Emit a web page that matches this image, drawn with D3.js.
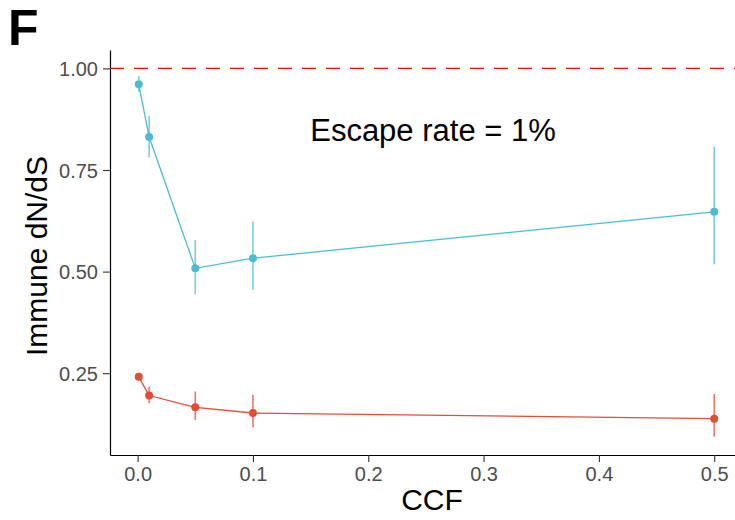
<!DOCTYPE html>
<html>
<head>
<meta charset="utf-8">
<script src="https://cdn.jsdelivr.net/npm/d3@7"></script>
<style>
  body { margin: 0; background: #fff; }
  svg { font-family: "Liberation Sans", Arial, Helvetica, sans-serif; display: block; }
  .tick text { fill: #4d4d4d; font-size: 20px; }
  .tick line { stroke: #333; }
  .domain { stroke: #000; }
</style>
</head>
<body>
<div id="chart"></div>
<script>
// CCF values on the x axis
const ccf = [0.001, 0.01, 0.05, 0.1, 0.5];
// blue series (top)
const blueMean = [0.961, 0.831, 0.508, 0.533, 0.647];
const blueLow  = [0.942, 0.781, 0.444, 0.455, 0.518];
const blueHigh = [0.981, 0.883, 0.578, 0.623, 0.807];
// red series (bottom)
const redMean = [0.241, 0.195, 0.166, 0.152, 0.138];
const redLow  = [0.236, 0.176, 0.135, 0.117, 0.094];
const redHigh = [0.246, 0.217, 0.205, 0.197, 0.199];

const xTicks = [0, 0.1, 0.2, 0.3, 0.4, 0.5];
const yTicks = [0.25, 0.5, 0.75, 1.0];
const refLine = 1.0;

const width = 735, height = 520;
const margin = {left: 110, right: 743, top: 50, bottom: 455};

const svg = d3.select('#chart').append('svg')
    .attr('width', width)
    .attr('height', height);

// ggplot style 5% expansion
let xAll = ccf;
let xPad = (d3.max(xAll) - d3.min(xAll)) * 0.05;
let x = d3.scaleLinear()
    .domain([d3.min(xAll) - xPad, d3.max(xAll) + xPad])
    .range([margin.left, margin.right]);

let yAll = blueHigh.concat(redLow, [refLine]);
let yPad = (d3.max(yAll) - d3.min(yAll)) * 0.05;
let y = d3.scaleLinear()
    .domain([d3.min(yAll) - yPad, d3.max(yAll) + yPad])
    .range([margin.bottom, margin.top]);

// axes
let xAxis = d3.axisBottom(x)
    .tickValues(xTicks)
    .tickFormat(d3.format('.1f'))
    .tickSizeInner(7)
    .tickSizeOuter(0)
    .tickPadding(5);
svg.append('g')
    .attr('transform', 'translate(0,' + margin.bottom + ')')
    .call(xAxis)
    .call(g => g.select('.domain').attr('stroke-width', 1.2))
    .selectAll('.tick line').attr('stroke-width', 1.1);

let yAxis = d3.axisLeft(y)
    .tickValues(yTicks)
    .tickFormat(d3.format('.2f'))
    .tickSizeInner(7)
    .tickSizeOuter(0)
    .tickPadding(5);
svg.append('g')
    .attr('transform', 'translate(' + margin.left + ',0)')
    .call(yAxis)
    .call(g => g.select('.domain').attr('stroke-width', 1.2))
    .call(g => g.selectAll('.tick text').attr('dy', '0.36em'))
    .selectAll('.tick line').attr('stroke-width', 1.1);

// reference line
svg.append('line')
    .attr('x1', margin.left)
    .attr('x2', width)
    .attr('y1', y(refLine))
    .attr('y2', y(refLine))
    .attr('stroke', '#ff0000')
    .attr('stroke-width', 1.2)
    .attr('stroke-dasharray', '14,10');

function drawSeries(mean, low, high, color) {
    let data = ccf.map((c, i) => ({x: c, m: mean[i], lo: low[i], hi: high[i]}));
    let g = svg.append('g');

    g.selectAll('line.err').data(data).enter().append('line')
        .attr('class', 'err')
        .attr('x1', d => x(d.x))
        .attr('x2', d => x(d.x))
        .attr('y1', d => y(d.lo))
        .attr('y2', d => y(d.hi))
        .attr('stroke', color)
        .attr('stroke-opacity', 0.75)
        .attr('stroke-width', 1.6);

    let line = d3.line().x(d => x(d.x)).y(d => y(d.m));
    g.append('path')
        .datum(data)
        .attr('d', line)
        .attr('fill', 'none')
        .attr('stroke', color)
        .attr('stroke-width', 1.3);

    g.selectAll('circle').data(data).enter().append('circle')
        .attr('cx', d => x(d.x))
        .attr('cy', d => y(d.m))
        .attr('r', 4)
        .attr('fill', color);
}

drawSeries(blueMean, blueLow, blueHigh, '#4DBBD5');
drawSeries(redMean, redLow, redHigh, '#E64B35');

// texts
svg.append('text')
    .attr('x', 433)
    .attr('y', 141)
    .attr('text-anchor', 'middle')
    .attr('font-size', 31)
    .attr('fill', '#000')
    .text('Escape rate = 1%');

svg.append('text')
    .attr('x', 432)
    .attr('y', 510)
    .attr('text-anchor', 'middle')
    .attr('font-size', 30)
    .attr('fill', '#000')
    .text('CCF');

svg.append('text')
    .attr('transform', 'translate(47,256) rotate(-90)')
    .attr('text-anchor', 'middle')
    .attr('font-size', 30)
    .attr('fill', '#000')
    .text('Immune dN/dS');

svg.append('text')
    .attr('x', 8)
    .attr('y', 45)
    .attr('font-size', 50)
    .attr('font-weight', 'bold')
    .attr('fill', '#000')
    .text('F');
</script>
</body>
</html>
